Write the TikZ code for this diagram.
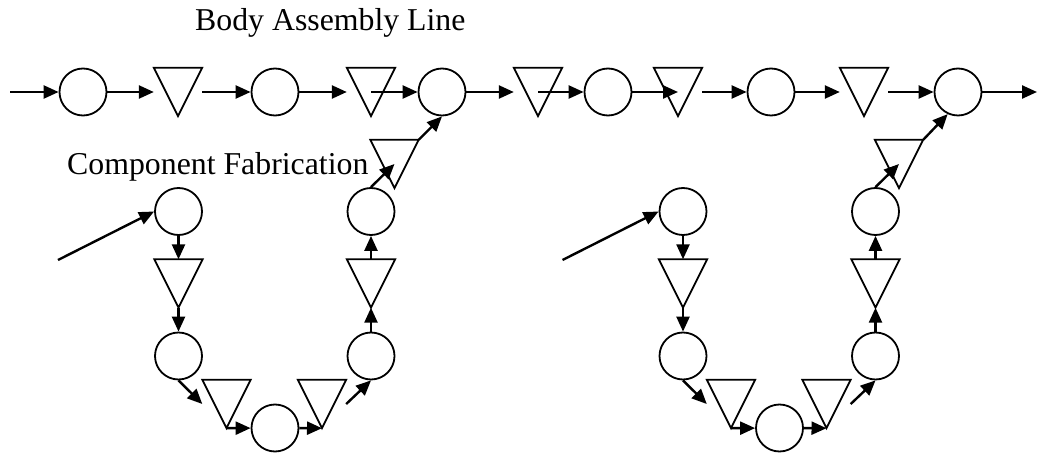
\documentclass[tikz,border=0pt]{standalone}
\usepackage{fontspec}
\setmainfont{Liberation Serif}
\usepackage{tikz}
\usetikzlibrary{positioning,arrows.meta}

\begin{document}
\begin{tikzpicture}[
  x=1pt, y=-1pt,
  station/.style={circle, draw, line width=1.8pt, minimum size=47pt, inner sep=0pt},
  buffer/.style={rectangle, minimum width=48pt, minimum height=48pt, inner sep=0pt},
  arrow/.style={-{Triangle[length=15pt,width=13pt]}, line width=2.4pt},
  heading/.style={font=\fontsize{31.8}{36}\selectfont, inner sep=0pt, anchor=base west}
]
\useasboundingbox (0,0) rectangle (1038,454);

% Titles
\node[heading] (bodytitle) at (195,31) {Body Assembly Line};
\node[heading] (comptitle) at (67,175) {Component Fabrication};

% Body assembly line
\coordinate (linein) at (10,92);
\node[station] (c1) at (83,92) {};
\node[buffer]  (t1) at (178,92) {};
\node[station] (c2) at (275,92) {};
\node[buffer]  (t2) at (371,92) {};
\node[station] (c3) at (442,92) {};
\node[buffer]  (t3) at (538,92) {};
\node[station] (c4) at (608,92) {};
\node[buffer]  (t4) at (678,92) {};
\node[station] (c5) at (771,92) {};
\node[buffer]  (t5) at (864,92) {};
\node[station] (c6) at (958,92) {};
\coordinate (lineout) at (1037,92);

% Component fabrication loops
\foreach \p/\dx in {L/0, R/504.5} {
  \begin{scope}[xshift=\dx pt]
    \coordinate (\p in) at (58,260);
    \node[station] (\p cA)   at (178.5,211.5) {};
    \node[buffer]  (\p tA)   at (178.5,283.5) {};
    \node[station] (\p cB)   at (178.5,356) {};
    \node[buffer]  (\p tBL)  at (226.5,404) {};
    \node[station] (\p cBot) at (275,428) {};
    \node[buffer]  (\p tBR)  at (322,404) {};
    \node[station] (\p cRB)  at (371,356) {};
    \node[buffer]  (\p tR)   at (371,283.5) {};
    \node[station] (\p cRA)  at (371,211.5) {};
    \node[buffer]  (\p tU)   at (394.5,164) {};
  \end{scope}
}

% Buffer triangles
\foreach \t in {t1,t2,t3,t4,t5,LtA,LtBL,LtBR,LtR,LtU,RtA,RtBL,RtBR,RtR,RtU}
  \draw[line width=1.8pt] (\t.north west) -- (\t.north east) -- (\t.south) -- cycle;

% Main line flow
\draw[arrow] (linein) -- (c1);
\draw[arrow] (c1) -- (t1);
\draw[arrow] (t1) -- (c2);
\draw[arrow] (c2) -- (t2);
\draw[arrow] (t2.center) -- (c3);
\draw[arrow] (c3) -- (t3);
\draw[arrow] (t3.center) -- (c4);
\draw[arrow] (c4) -- (t4.center);
\draw[arrow] (t4) -- (c5);
\draw[arrow] (c5) -- (t5);
\draw[arrow] (t5) -- (c6);
\draw[arrow] (c6) -- (lineout);

% Fabrication flow
\foreach \p in {L,R} {
  \draw[arrow] (\p in) -- (\p cA.west);
  \draw[arrow] (\p cA) -- (\p tA);
  \draw[arrow] (\p tA.south) -- (\p cB);
  \draw[arrow] (\p cB.south) -- (\p tBL.west);
  \draw[arrow] (\p tBL.south) -- (\p cBot);
  \draw[arrow] (\p cBot) -- (\p tBR.south);
  \draw[arrow] (\p tBR.east) -- (\p cRB.south);
  \draw[arrow] (\p cRB) -- (\p tR.south);
  \draw[arrow] (\p tR) -- (\p cRA);
  \draw[arrow] (\p cRA.north) -- (\p tU.center);
}

% Feeds into the body line
\draw[arrow] (LtU.north east) -- (c3.south);
\draw[arrow] (RtU.north east) -- (c6.245);

\end{tikzpicture}
\end{document}
